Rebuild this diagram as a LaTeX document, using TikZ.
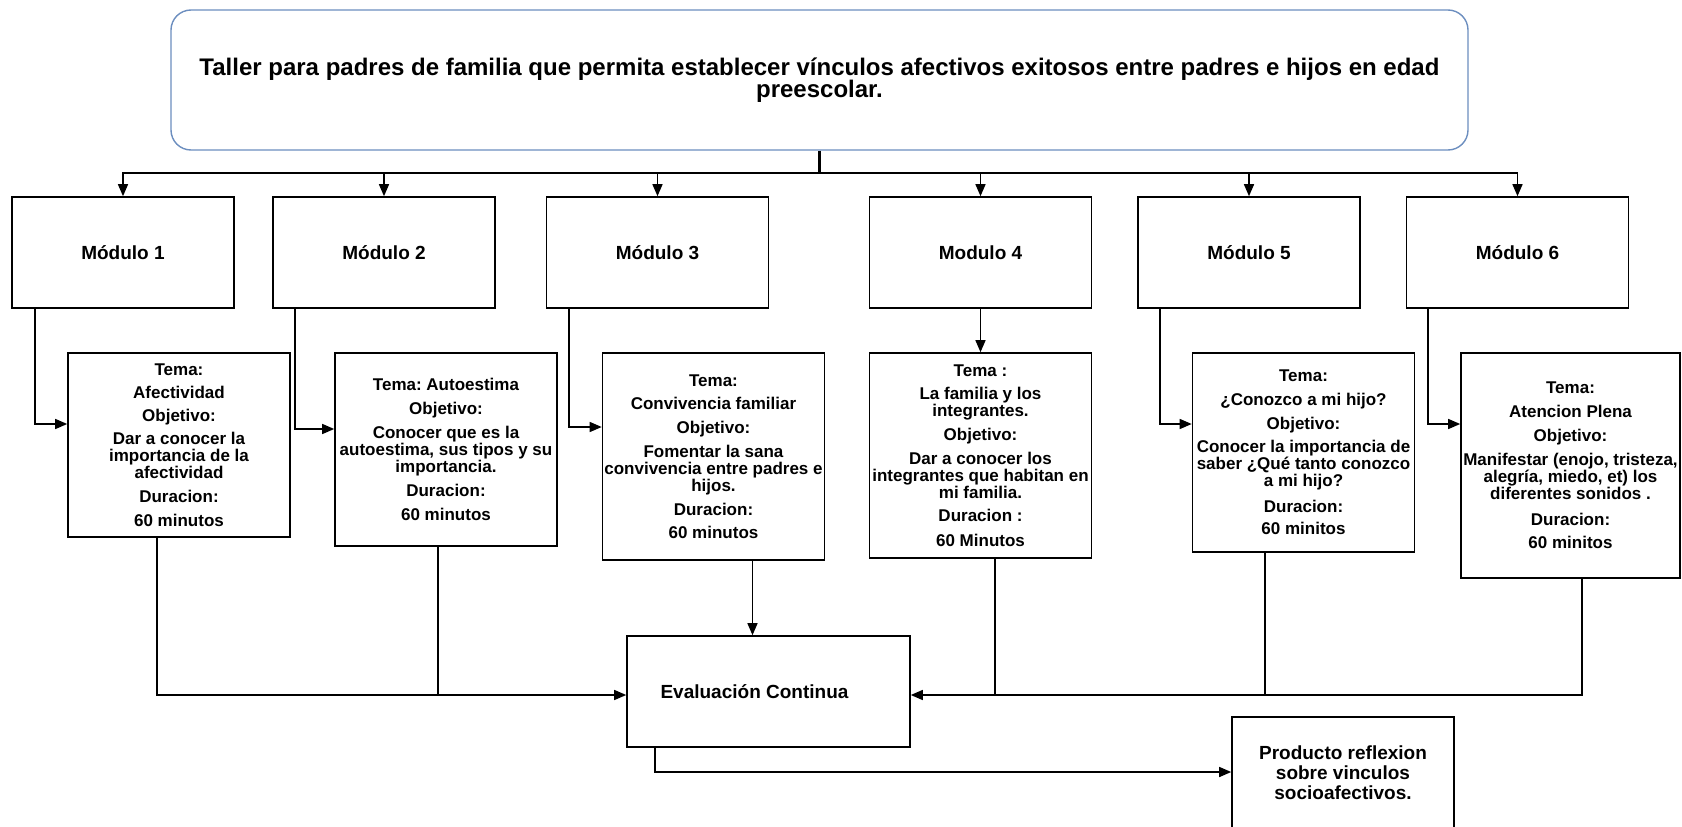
\documentclass[tikz,border=0pt]{standalone}
\usepackage{fontspec}
\setmainfont{Liberation Sans}
\usetikzlibrary{arrows.meta}
\definecolor{topblue}{RGB}{108,142,191}
\frenchspacing
\newcommand\mytightlines{\setlength{\lineskiplimit}{-20pt}}
\begin{document}
\begin{tikzpicture}[x=1pt,y=-1pt,
  box/.style={draw, line width=1.6pt, inner sep=0pt, align=center},
  modbox/.style={box, minimum width=222pt, minimum height=111pt, font=\fontsize{19}{22}\selectfont\bfseries},
  detbox/.style={box, font=\fontsize{17}{17}\selectfont\bfseries},
  conn/.style={line width=1.4pt},
  busline/.style={line width=2.2pt},
  arr/.style={conn, -{Triangle[length=12pt,width=10pt]}},
]
\useasboundingbox (0,0) rectangle (1682,827);

\node[draw=topblue, line width=1.4pt, rounded corners=20pt, minimum width=1297pt, minimum height=140pt, inner sep=0pt, align=center, font=\fontsize{24}{21.5}\selectfont\mytightlines\bfseries] (top) at (819.5,80)
 {Taller para padres de familia que permita establecer vínculos afectivos exitosos entre padres e hijos en edad\\preescolar.};

\node[modbox] (m1) at (123,252.5) {Módulo 1};
\node[modbox] (m2) at (384,252.5) {Módulo 2};
\node[modbox] (m3) at (657.5,252.5) {Módulo 3};
\node[modbox] (m4) at (980.5,252.5) {Modulo 4};
\node[modbox] (m5) at (1249,252.5) {Módulo 5};
\node[modbox] (m6) at (1517.5,252.5) {Módulo 6};

\node[detbox, minimum width=222pt, minimum height=184pt] (d1) at (179,445)
 {Tema:\\[6pt]Afectividad\\[6pt]Objetivo:\\[6pt]Dar a conocer la\\importancia de la\\afectividad\\[7pt]Duracion:\\[7pt]60 minutos};
\node[detbox, minimum width=222pt, minimum height=193pt] (d2) at (446,449.5)
 {Tema: Autoestima\\[7pt]Objetivo:\\[7pt]Conocer que es la\\autoestima, sus tipos y su\\importancia.\\[7pt]Duracion:\\[7pt]60 minutos};
\node[detbox, minimum width=222pt, minimum height=207pt] (d3) at (713.5,456.5)
 {Tema:\\[6pt]Convivencia familiar\\[7pt]Objetivo:\\[7pt]Fomentar la sana\\convivencia entre padres e\\hijos.\\[7pt]Duracion:\\[6pt]60 minutos};
\node[detbox, minimum width=222pt, minimum height=205pt] (d4) at (980.5,455.5)
 {Tema :\\[6pt]La familia y los\\integrantes.\\[7pt]Objetivo:\\[7pt]Dar a conocer los\\integrantes que habitan en\\mi familia.\\[6pt]Duracion :\\[8pt]60 Minutos};
\node[detbox, minimum width=222pt, minimum height=199pt] (d5) at (1303.5,452.5)
 {Tema:\\[7pt]¿Conozco a mi hijo?\\[7pt]Objetivo:\\[6pt]Conocer la importancia de\\saber ¿Qué tanto conozco\\a mi hijo?\\[9pt]Duracion:\\[5pt]60 minitos};
\node[detbox, minimum width=219pt, minimum height=225pt] (d6) at (1570.5,465.5)
 {Tema:\\[7pt]Atencion Plena\\[7pt]Objetivo:\\[7pt]Manifestar (enojo, tristeza,\\alegría, miedo, et) los\\diferentes sonidos .\\[9pt]Duracion:\\[6pt]60 minitos};

\node[modbox, minimum width=283pt] (eval) at (768.5,691.5) {Evaluación Continua\hspace*{28pt}};
\node[box, minimum width=222pt, minimum height=112pt, font=\fontsize{19}{20}\selectfont\bfseries] (prod) at (1343,773)
 {Producto reflexion\\sobre vinculos\\socioafectivos.};

% top to modules
\coordinate (bus) at (819.5,173);
\draw[busline] (top.south) -- (bus);
\foreach \m in {m1,m2,m3,m4,m5,m6} \draw[arr] (bus) -| (\m.north);

% modules to details
\draw[arr] ([xshift=-88pt]m1.south) |- ([yshift=21pt]d1.west);
\draw[arr] ([xshift=-89pt]m2.south) |- ([yshift=20.5pt]d2.west);
\draw[arr] ([xshift=-88.5pt]m3.south) |- ([yshift=29.5pt]d3.west);
\draw[arr] (m4.south) -- (d4.north);
\draw[arr] ([xshift=-89pt]m5.south) |- ([yshift=28.5pt]d5.west);
\draw[arr] ([xshift=-89.5pt]m6.south) |- ([yshift=41.5pt]d6.west);

% details to evaluation
\coordinate (inL) at ([yshift=-3.5pt]eval.west);
\coordinate (inR) at ([yshift=-3.5pt]eval.east);
\coordinate (d2b) at ([xshift=-8pt]d2.south);
\coordinate (d3b) at ([xshift=39pt]d3.south);
\coordinate (d4b) at ([xshift=14.5pt]d4.south);
\coordinate (d5b) at ([xshift=-38.5pt]d5.south);
\coordinate (d6b) at ([xshift=11.5pt]d6.south);
\draw[arr] ([xshift=-22pt]d1.south) |- (inL);
\draw[conn] (d2b) -- (d2b |- inL);
\draw[arr] (d3b) -- (d3b |- eval.north);
\draw[arr] (d4b) |- (inR);
\draw[conn] (d5b) -- (d5b |- inR);
\draw[conn] (d6b) |- (d4b |- inR);

% evaluation to product
\draw[arr] ([xshift=-113.5pt]eval.south) |- ([yshift=1pt]prod.west);
\end{tikzpicture}
\end{document}
